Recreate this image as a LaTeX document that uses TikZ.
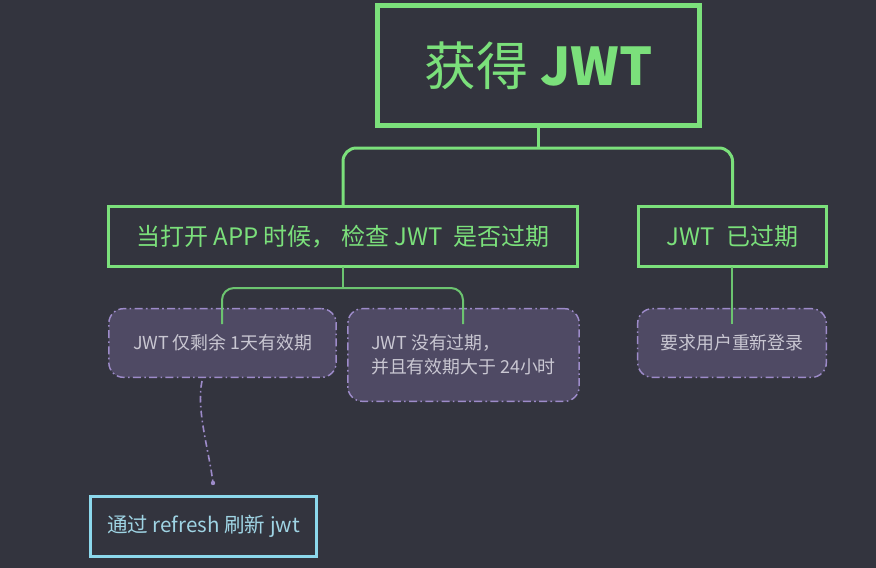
\documentclass[tikz,border=0pt]{standalone}
\usepackage{fontspec}
\setmainfont{Noto Sans CJK SC}
\definecolor{bg}{HTML}{33343E}
\definecolor{grn}{HTML}{7BE07B}
\definecolor{grn2}{HTML}{6CC470}
\definecolor{gcfill}{HTML}{4F4A64}
\definecolor{gcline}{HTML}{9D8BC9}
\definecolor{gctext}{HTML}{C9C7D2}
\definecolor{cyanline}{HTML}{8CD8EC}
\definecolor{cyantext}{HTML}{9FD4E4}
\tikzset{
  rootbox/.style={draw=grn, line width=3.75pt, text=grn, inner sep=0pt, outer sep=0pt,
    minimum width=241.5pt, minimum height=90pt, font=\fontsize{39pt}{44pt}\selectfont},
  childbox/.style={draw=grn, line width=2.25pt, text=grn, inner sep=0pt, outer sep=0pt,
    minimum height=45pt, font=\fontsize{18pt}{21pt}\selectfont},
  gcbox/.style={draw=gcline, fill=gcfill, line width=1.1pt, rounded corners=11pt, text=gctext,
    inner sep=0pt, outer sep=0pt, dash pattern=on 6pt off 2.5pt on 1.2pt off 2.5pt,
    font=\fontsize{13.4pt}{18pt}\selectfont},
  refbox/.style={draw=cyanline, line width=2.25pt, text=cyantext, inner sep=0pt, outer sep=0pt,
    minimum width=169.5pt, minimum height=45pt, font=\fontsize{15.4pt}{18pt}\selectfont},
  connA/.style={draw=grn, line width=2.25pt, rounded corners=10pt},
  connB/.style={draw=grn2, line width=1.5pt, rounded corners=9pt},
  connC/.style={draw=gcline, line width=1.2pt, dash pattern=on 5pt off 2.5pt on 1.2pt off 2.5pt},
}
\begin{document}
\begin{tikzpicture}[x=0.75pt,y=-0.75pt]
\fill[bg] (0,0) rectangle (876,568);
\useasboundingbox (0,0) rectangle (876,568);

\node[rootbox] (root) at (538.5,65.5) {获得 {\bfseries JWT}};
\node[childbox, minimum width=351.75pt] (c1) at (343,236.5) {当打开 APP 时候， 检查 JWT \ 是否过期};
\node[childbox, minimum width=141pt] (c2) at (732.5,236.5) {JWT \ 已过期};

\node[gcbox, minimum width=170.5pt, minimum height=51.5pt] (g1) at (222.5,343) {JWT 仅剩余 1天有效期};
\node[gcbox, minimum width=173.5pt, minimum height=69.5pt, align=left] (g2) at (463.5,355) {JWT 没有过期，\\并且有效期大于 24小时};
\node[gcbox, minimum width=141.5pt, minimum height=51.5pt] (g3) at (732,343) {要求用户重新登录};

\node[refbox] (ref) at (203.5,526.5) {通过 refresh 刷新 jwt};

\coordinate (j1) at (538.5,148);
\coordinate (j2) at (343,288);
\coordinate (e1) at (222,324);
\coordinate (e2) at (463,324);
\coordinate (e3) at (732,324);
\coordinate (s1) at (202,381);
\coordinate (d1) at (213,483);

\draw[connA] (root.south) -- (j1);
\draw[connA] (c1.north) |- (j1) -| (c2.north);
\draw[connB] (c1.south) -- (j2);
\draw[connB] (e1) |- (j2) -| (e2);
\draw[connB] (c2.south -| e3) -- (e3);
\draw[connC] (s1) .. controls (196,410) and (209,450) .. (d1);
\fill[gcline] (d1) circle (2.2);
\end{tikzpicture}
\end{document}
